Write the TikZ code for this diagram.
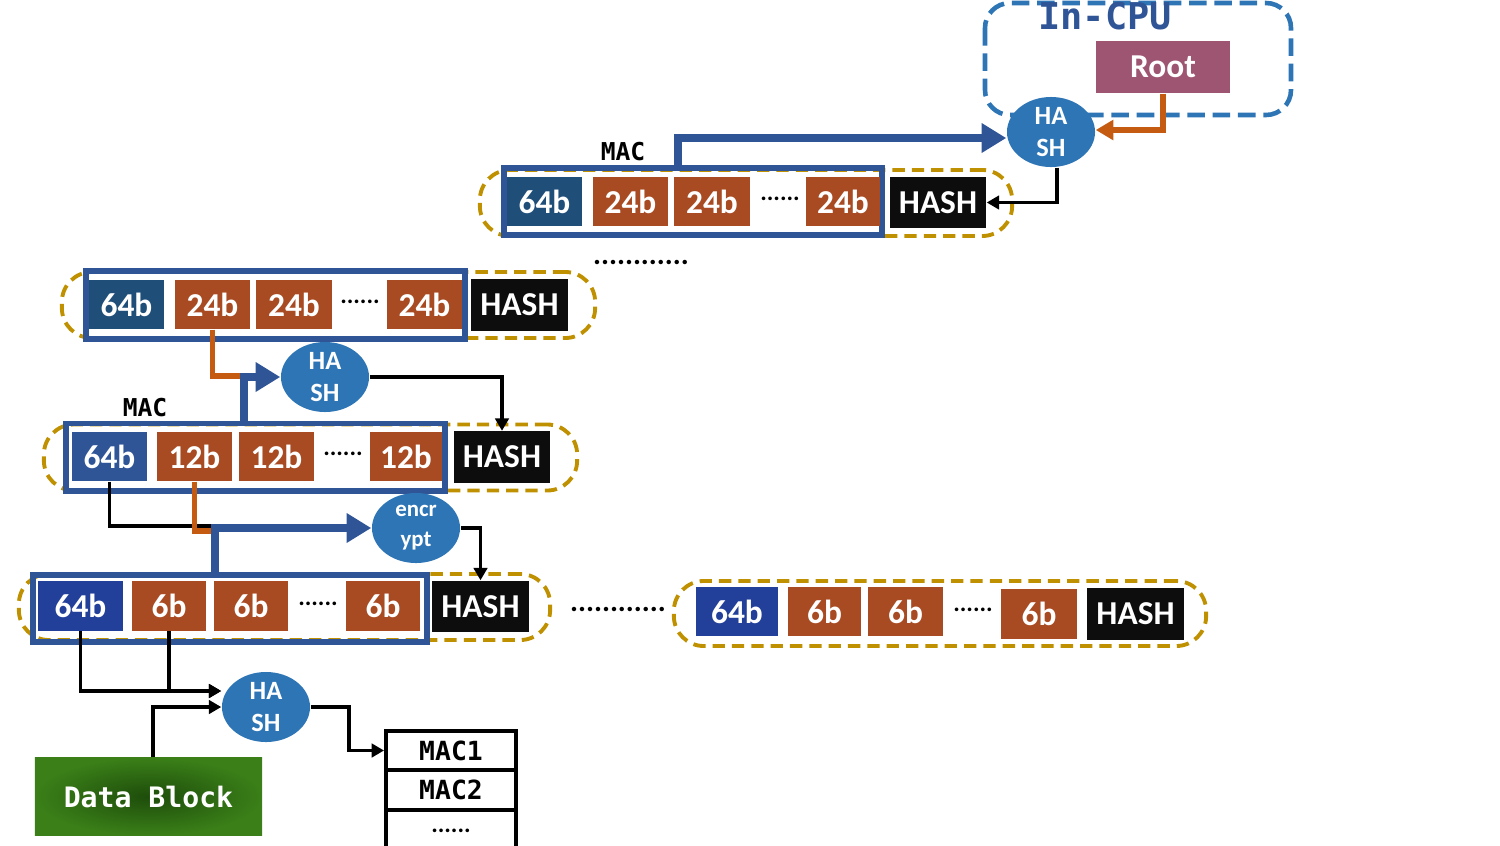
\documentclass[tikz,border=0pt]{standalone}
\usepackage{fontspec}
\setmainfont{Carlito}
\newfontfamily\codefont{DejaVu Sans Mono}
\usetikzlibrary{arrows.meta,shapes.geometric}
\definecolor{tagblue}{HTML}{1F4E79}
\definecolor{tagmid}{HTML}{2F5597}
\definecolor{tagdeep}{HTML}{22409A}
\definecolor{ctrbrown}{HTML}{A84B23}
\definecolor{hashblack}{HTML}{0D0D0D}
\definecolor{macblue}{HTML}{2F5597}
\definecolor{nodegold}{HTML}{BF9000}
\definecolor{hashfill}{HTML}{2E75B6}
\definecolor{rootline}{HTML}{C55A11}
\definecolor{rootfill}{HTML}{9E5572}
\definecolor{dataout}{HTML}{3A7F18}
\definecolor{datain}{HTML}{1E4D0B}
\newcommand\cellfont{\bfseries\fontsize{9.5}{9.5}\selectfont}

\begin{document}
\begin{tikzpicture}[x=0.01cm,y=-0.01cm,
  cell/.style={rectangle,inner sep=0pt,minimum width=0.75cm,minimum height=0.49cm,text=white,font=\cellfont},
  tag/.style={cell,fill=#1},
  ctr/.style={cell,fill=ctrbrown},
  hashcell/.style={cell,fill=hashblack,minimum width=0.96cm,minimum height=0.51cm},
  hasher/.style={ellipse,fill=hashfill,text=white,inner sep=0pt,minimum width=0.88cm,minimum height=0.7cm,align=center,font=\bfseries\fontsize{7.5}{9}\selectfont},
  dots/.style={font=\bfseries\fontsize{7}{7}\selectfont},
  bigdots/.style={font=\bfseries\fontsize{8.5}{8.5}\selectfont},
  nodering/.style={draw=nodegold,line width=1.1pt,dash pattern=on 3.5pt off 2pt,rounded corners=0.3cm,minimum height=0.66cm},
  macbox/.style={draw=macblue,line width=1.7pt,minimum height=0.67cm},
  macflow/.style={draw=macblue,line width=2.3pt,-{Triangle[length=7pt,width=8pt]}},
  ctrflow/.style={draw=rootline,line width=1.7pt},
  ctrarrow/.style={ctrflow,-{Triangle[length=5pt,width=5.5pt]}},
  wire/.style={draw=black,line width=1.1pt},
  wirearrow/.style={wire,-{Triangle[length=3.5pt,width=3.8pt]}},
  maclabel/.style={font=\codefont\bfseries\fontsize{7}{7}\selectfont},
  macrow/.style={draw,line width=1.1pt,inner sep=0pt,minimum width=1.3cm,minimum height=0.4cm,font=\codefont\bfseries\fontsize{7.5}{7.5}\selectfont}
]
\useasboundingbox (0,0) rectangle (1500,845);

\draw[draw=hashfill,line width=1.3pt,dash pattern=on 5pt off 2.2pt,rounded corners=0.25cm] (985,3) rectangle (1291,115);
\draw (1105,16) node[font=\codefont\bfseries\fontsize{10.5}{10.5}\selectfont,text=tagmid] (cpu) {In-CPU};
\draw (1163,67) node[cell,fill=rootfill,minimum width=1.34cm,minimum height=0.52cm] (root) {Root};
\draw (1051,132) node[hasher] (hash1) {HA\\SH};

\draw (746,203) node[nodering,minimum width=5.32cm] (ring1) {};
\draw (693,201.5) node[macbox,minimum width=3.78cm] (mac1) {};
\draw (544.5,201.5) node[tag=tagblue] (r1a) {64b};
\draw (630.5,201.5) node[ctr] (r1b) {24b};
\draw (712,201.5) node[ctr] (r1c) {24b};
\draw (780,199) node[dots] (r1dots) {......};
\draw (843,201.5) node[ctr,minimum width=0.74cm] (r1d) {24b};
\draw (938,202.5) node[hashcell] (h1) {HASH};
\draw (623,152) node[maclabel] (lbl1) {MAC};
\draw (641,262) node[bigdots] (gap1) {............};

\draw[macflow] ([xshift=-0.15cm]mac1.north) |- ([yshift=-0.06cm]hash1.west);
\draw[ctrarrow] (root.south) |- ([yshift=0.02cm]hash1.east);
\draw[wirearrow] ([xshift=0.06cm]hash1.south) |- (h1.east);

\draw (328.5,305) node[nodering,minimum width=5.33cm] (ring2) {};
\draw (275.5,305) node[macbox,minimum width=3.79cm] (mac2) {};
\draw (126.5,304.5) node[tag=tagblue] (r2a) {64b};
\draw (212.5,304.5) node[ctr] (r2b) {24b};
\draw (294,304.5) node[ctr] (r2c) {24b};
\draw (360,302) node[dots] (r2dots) {......};
\draw (424.5,304.5) node[ctr] (r2d) {24b};
\draw (519.5,305) node[hashcell] (h2) {HASH};

\draw (325,377) node[hasher] (hash2) {HA\\SH};

\draw (310.5,457.5) node[nodering,minimum width=5.33cm] (ring3) {};
\draw (255.5,457) node[macbox,minimum width=3.79cm] (mac3) {};
\draw (109.5,456.5) node[tag=tagmid] (r3a) {64b};
\draw (194.5,456.5) node[ctr] (r3b) {12b};
\draw (276.5,456.5) node[ctr] (r3c) {12b};
\draw (343,454) node[dots] (r3dots) {......};
\draw (406,456.5) node[ctr,minimum width=0.72cm] (r3d) {12b};
\draw (502,457) node[hashcell] (h3) {HASH};
\draw (145,408) node[maclabel] (lbl3) {MAC};

\coordinate (j2) at (244,376);
\draw[ctrflow] (r2b.south) |- (j2);
\draw[macflow] ([xshift=-0.115cm]mac3.north) |- (hash2.west);
\draw[wirearrow] (hash2.east) -| (h3.north);

\draw (416,528) node[hasher,font=\bfseries\fontsize{6.5}{8.5}\selectfont] (enc) {encr\\ypt};

\draw (284.5,607) node[nodering,minimum width=5.31cm] (ring4) {};
\draw (230,608.5) node[macbox,minimum width=3.94cm] (mac4) {};
\draw (80.5,606) node[tag=tagdeep,minimum width=0.85cm] (r4a) {64b};
\draw (169,606) node[ctr,minimum width=0.74cm] (r4b) {6b};
\draw (251,606) node[ctr,minimum width=0.74cm] (r4c) {6b};
\draw (318,604) node[dots] (r4dots) {......};
\draw (383,606) node[ctr,minimum width=0.74cm] (r4d) {6b};
\draw (480.5,606.5) node[hashcell] (h4) {HASH};
\draw (618,609) node[bigdots] (gap4) {............};

\coordinate (j3) at (215,526);
\coordinate (j3o) at (215,531);
\draw[wire] (r3a.south) |- (j3);
\draw[ctrflow] (r3b.south) |- (j3o);
\draw[macflow] ([xshift=-0.15cm]mac4.north) |- (enc.west);
\draw[wirearrow] (enc.east) -| (h4.north);

\draw (940,613.5) node[nodering,minimum width=5.32cm,minimum height=0.65cm] (ring5) {};
\draw (737,611.5) node[tag=tagdeep,minimum width=0.82cm] (r5a) {64b};
\draw (824.5,611.5) node[ctr,minimum width=0.73cm] (r5b) {6b};
\draw (905.5,611.5) node[ctr] (r5c) {6b};
\draw (973,610) node[dots] (r5dots) {......};
\draw (1039,614) node[ctr,minimum width=0.76cm] (r5d) {6b};
\draw (1135.5,614) node[hashcell,minimum width=0.97cm] (h5) {HASH};

\draw (266,707) node[hasher] (hash3) {HA\\SH};
\draw (148.5,796.5) node[rectangle,inner color=datain,outer color=dataout,minimum width=2.27cm,minimum height=0.77cm,text=white,font=\codefont\bfseries\fontsize{8}{8}\selectfont] (data) {Data Block};
\draw (451,750.5) node[macrow,minimum height=0.39cm] (mt1) {MAC1};
\draw (451,790) node[macrow] (mt2) {MAC2};
\draw (451,830) node[macrow,font=\bfseries\fontsize{7}{7}\selectfont] (mt3) {\raisebox{-1.5pt}{......}};

\draw[wirearrow] (r4a.south) |- ([yshift=0.16cm]hash3.west);
\draw[wirearrow] (r4b.south) |- ([yshift=0.16cm]hash3.west);
\draw[wirearrow] ([xshift=0.045cm]data.north) |- (hash3.west);
\draw[wirearrow] (hash3.east) -- ++(38,0) |- (mt1.west);
\end{tikzpicture}
\end{document}
